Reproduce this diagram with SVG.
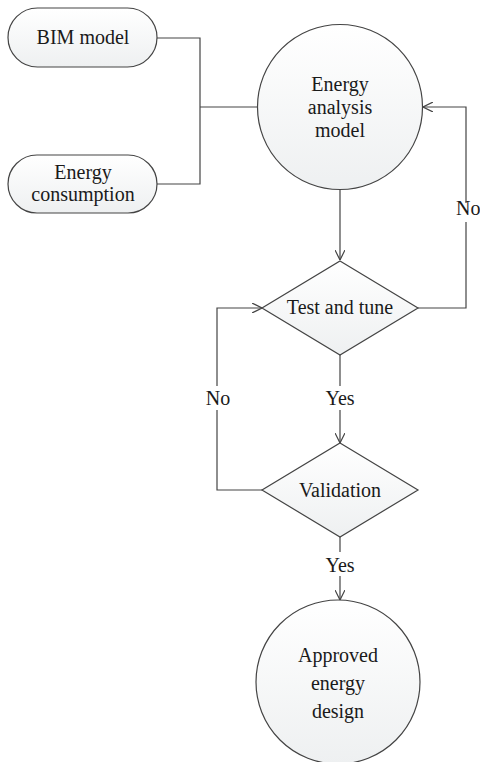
<svg xmlns="http://www.w3.org/2000/svg" width="480" height="762" viewBox="0 0 480 762">
<defs>
<linearGradient id="g" x1="0" y1="0" x2="0" y2="1">
<stop offset="0" stop-color="#ffffff"/>
<stop offset="1" stop-color="#eef0f1"/>
</linearGradient>
<marker id="arr" viewBox="0 0 10 10" refX="10" refY="5" markerWidth="10" markerHeight="10" markerUnits="userSpaceOnUse" orient="auto">
<path d="M0,0 L10,5 L0,10" fill="none" stroke="#444" stroke-width="1.2"/>
</marker>
<style>
.s{fill:url(#g);stroke:#444;stroke-width:1.2}
.c{fill:none;stroke:#444;stroke-width:1.2}
text{font-family:"Liberation Serif",serif;font-size:20px;fill:#1a1a1a;text-anchor:middle}
</style>
</defs>
<g id="connectors">
<path class="c" d="M157,38 H200 V184 H157"/>
<path class="c" d="M200,107 H258"/>
<path class="c" d="M340,190 V260" marker-end="url(#arr)"/>
<path class="c" d="M418,308 H466 V222"/>
<path class="c" d="M466,203 V107 H423" marker-end="url(#arr)"/>
<path class="c" d="M340,355 V386"/>
<path class="c" d="M340,410 V443" marker-end="url(#arr)"/>
<path class="c" d="M262,490 H217 V410"/>
<path class="c" d="M217,386 V308 H262" marker-end="url(#arr)"/>
<path class="c" d="M340,537 V552"/>
<path class="c" d="M340,576 V600" marker-end="url(#arr)"/>
<text x="456" y="215" style="text-anchor:start">No</text>
<text x="218" y="405">No</text>
<text x="340" y="405">Yes</text>
<text x="340" y="572">Yes</text>
</g>
<g id="bim">
<rect class="s" x="8" y="8" width="149" height="59" rx="29.5"/>
<text x="83" y="44">BIM model</text>
</g>
<g id="consumption">
<rect class="s" x="8" y="155" width="149" height="58" rx="29"/>
<text x="83" y="179">Energy</text>
<text x="83" y="201">consumption</text>
</g>
<g id="analysis">
<circle class="s" cx="340" cy="107" r="82.5"/>
<text x="340" y="91">Energy</text>
<text x="340" y="114">analysis</text>
<text x="340" y="137">model</text>
</g>
<g id="test">
<polygon class="s" points="340,261 418,308 340,355 262,308"/>
<text x="340" y="314">Test and tune</text>
</g>
<g id="validation">
<polygon class="s" points="340,443 418,490 340,537 262,490"/>
<text x="340" y="497">Validation</text>
</g>
<g id="approved">
<circle class="s" cx="338" cy="682" r="82"/>
<text x="338" y="662">Approved</text>
<text x="338" y="690">energy</text>
<text x="338" y="718">design</text>
</g>
</svg>
